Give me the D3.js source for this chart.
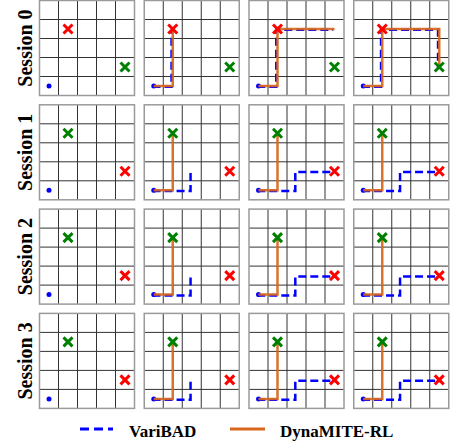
<!DOCTYPE html>
<html>
<head>
<meta charset="utf-8">
<script src="https://cdn.jsdelivr.net/npm/d3@7"></script>
<style>
  body { margin: 0; background: white; }
  svg { display: block; }
</style>
</head>
<body>
<svg id="svg"></svg>
<script>
// grid world: 5x5 cells, coordinates are cell indices (x right, y up)
const sessions = ["Session 0", "Session 1", "Session 2", "Session 3"];
const steps = [0, 1, 2, 3];
const startCell = [0, 0];
const redGoals = [[1, 3], [4, 1], [4, 1], [4, 1]];
const greenGoals = [[4, 1], [1, 3], [1, 3], [1, 3]];

// trajectories per session, per step (column)
const variBadPaths = [
    [[], [[0,0],[1,0],[1,3]], [[0,0],[1,0],[1,3],[4,3]], [[0,0],[1,0],[1,3],[4,3],[4,1]]],
    [[], [[0,0],[2,0],[2,1]], [[0,0],[2,0],[2,1],[4,1]], [[0,0],[2,0],[2,1],[4,1]]],
    [[], [[0,0],[2,0],[2,1]], [[0,0],[2,0],[2,1],[4,1]], [[0,0],[2,0],[2,1],[4,1]]],
    [[], [[0,0],[2,0],[2,1]], [[0,0],[2,0],[2,1],[4,1]], [[0,0],[2,0],[2,1],[4,1]]]
];
const dynamitePaths = [
    [[], [[0,0],[1,0],[1,3]], [[0,0],[1,0],[1,3],[4,3]], [[0,0],[1,0],[1,3],[4,3],[4,1]]],
    [[], [[0,0],[1,0],[1,3]], [[0,0],[1,0],[1,3]], [[0,0],[1,0],[1,3]]],
    [[], [[0,0],[1,0],[1,3]], [[0,0],[1,0],[1,3]], [[0,0],[1,0],[1,3]]],
    [[], [[0,0],[1,0],[1,3]], [[0,0],[1,0],[1,3]], [[0,0],[1,0],[1,3]]]
];
const legendLabels = ["VariBAD", "DynaMITE-RL"];

const width = 456;
const height = 445;
const nCells = 5;

const panelLeft = 39.5;
const panelTop = 0.5;
const panelSize = 95;
const colStep = 104.75;
const rowStep = 104.3;

const blue = "#0000ff";
const orange = "#d8661c";
const red = "#ff0000";
const green = "#008000";
const serifFont = "Liberation Serif";

let svg = d3.select("#svg").attr("width", width).attr("height", height);

function drawCross(g, x, y, color) {
    const s = 4.5;
    g.append("path")
        .attr("d", `M${x - s},${y - s}L${x + s},${y + s}M${x - s},${y + s}L${x + s},${y - s}`)
        .attr("stroke", color)
        .attr("stroke-width", 3)
        .attr("fill", "none");
}

sessions.forEach((label, r) => {
    const y0 = panelTop + r * rowStep;

    svg.append("text")
        .attr("transform", `translate(32,${y0 + panelSize / 2}) rotate(-90)`)
        .attr("text-anchor", "middle")
        .attr("font-family", serifFont)
        .attr("font-weight", "bold")
        .attr("font-size", 20)
        .text(label);

    steps.forEach(c => {
        const x0 = panelLeft + c * colStep;
        const xScale = d3.scaleLinear().domain([0, nCells]).range([x0, x0 + panelSize]);
        const yScale = d3.scaleLinear().domain([0, nCells]).range([y0 + panelSize, y0]);
        const g = svg.append("g");

        // inner grid lines
        const inner = d3.range(1, nCells);
        g.selectAll(".vline").data(inner).join("line")
            .attr("x1", d => xScale(d)).attr("x2", d => xScale(d))
            .attr("y1", yScale(0)).attr("y2", yScale(nCells))
            .attr("stroke", "#333").attr("stroke-width", 1);
        g.selectAll(".hline").data(inner).join("line")
            .attr("y1", d => yScale(d)).attr("y2", d => yScale(d))
            .attr("x1", xScale(0)).attr("x2", xScale(nCells))
            .attr("stroke", "#333").attr("stroke-width", 1);
        // frame
        g.append("rect")
            .attr("x", xScale(0)).attr("y", yScale(nCells))
            .attr("width", xScale(nCells) - xScale(0))
            .attr("height", yScale(0) - yScale(nCells))
            .attr("fill", "none").attr("stroke", "#9a9a9a").attr("stroke-width", 1.5);

        const line = d3.line()
            .x(d => xScale(d[0] + 0.5))
            .y(d => yScale(d[1] + 0.5));

        // start point
        g.append("circle")
            .attr("cx", xScale(startCell[0] + 0.5))
            .attr("cy", yScale(startCell[1] + 0.5))
            .attr("r", 2.5)
            .attr("fill", blue);

        const vb = variBadPaths[r][c];
        if (vb.length) {
            g.append("path")
                .attr("d", line(vb))
                .attr("transform", "translate(-1.2,0.8)")
                .attr("fill", "none")
                .attr("stroke", blue)
                .attr("stroke-width", 2.5)
                .attr("stroke-dasharray", "8,4");
        }
        const dm = dynamitePaths[r][c];
        if (dm.length) {
            g.append("path")
                .attr("d", line(dm))
                .attr("fill", "none")
                .attr("stroke", orange)
                .attr("stroke-opacity", 0.92)
                .attr("stroke-width", 2.5);
        }

        drawCross(g, xScale(redGoals[r][0] + 0.5), yScale(redGoals[r][1] + 0.5), red);
        drawCross(g, xScale(greenGoals[r][0] + 0.5), yScale(greenGoals[r][1] + 0.5), green);
    });
});

// legend
const legend = svg.append("g").attr("class", "legend");
const legendY = 429;
legend.append("line")
    .attr("x1", 80).attr("x2", 113).attr("y1", legendY).attr("y2", legendY)
    .attr("stroke", blue).attr("stroke-width", 3).attr("stroke-dasharray", "9,5");
legend.append("text")
    .attr("x", 129).attr("y", legendY + 8)
    .attr("font-family", serifFont)
    .attr("font-weight", "bold")
    .attr("font-size", 17)
    .text(legendLabels[0]);
legend.append("line")
    .attr("x1", 230).attr("x2", 265).attr("y1", legendY).attr("y2", legendY)
    .attr("stroke", orange).attr("stroke-width", 3);
legend.append("text")
    .attr("x", 280).attr("y", legendY + 8)
    .attr("font-family", serifFont)
    .attr("font-weight", "bold")
    .attr("font-size", 17)
    .text(legendLabels[1]);
</script>
</body>
</html>
